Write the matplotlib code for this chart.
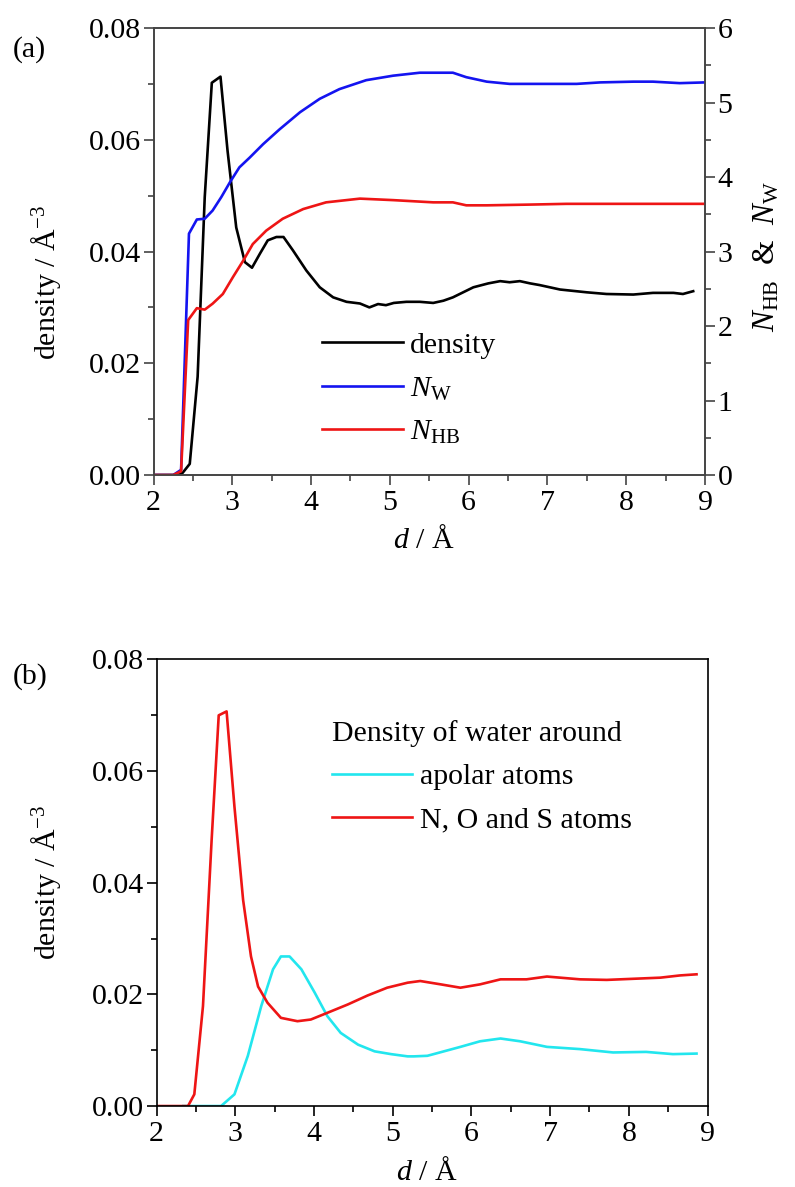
import matplotlib
matplotlib.use("Agg")
import matplotlib.pyplot as plt
from matplotlib.ticker import MultipleLocator

plt.rcParams['font.family'] = ['Liberation Serif', 'DejaVu Serif']
plt.rcParams['mathtext.fontset'] = 'custom'
plt.rcParams['mathtext.rm'] = 'Liberation Serif'
plt.rcParams['mathtext.it'] = 'Liberation Serif:italic'
FS = 21.5
plt.rcParams['font.size'] = FS

# (a) water density and coordination numbers
dens_x = [2.0, 2.1, 2.2, 2.3, 2.37, 2.46, 2.56, 2.65, 2.74, 2.85, 2.94, 3.05, 3.16, 3.25,
          3.35, 3.45, 3.56, 3.65, 3.77, 3.94, 4.11, 4.28, 4.45, 4.62, 4.74, 4.85, 4.95,
          5.05, 5.21, 5.38, 5.55, 5.68, 5.80, 6.06, 6.25, 6.40, 6.52, 6.65, 6.78, 6.90,
          7.16, 7.50, 7.75, 8.09, 8.34, 8.60, 8.72, 8.85]
dens_y = [0, 0, 0, 0, 0.0004, 0.002, 0.0176, 0.0497, 0.0702, 0.0713, 0.058, 0.0443, 0.0381,
          0.0371, 0.0396, 0.042, 0.0426, 0.0426, 0.0402, 0.0366, 0.0336, 0.0318, 0.031,
          0.0307, 0.030, 0.0306, 0.0304, 0.0308, 0.031, 0.031, 0.0308, 0.0312, 0.0318,
          0.0336, 0.0343, 0.0347, 0.0345, 0.0347, 0.0343, 0.034, 0.0332, 0.0327, 0.0324,
          0.0323, 0.0326, 0.0326, 0.0324, 0.0329]

nw_x = [2.0, 2.25, 2.35, 2.45, 2.55, 2.65, 2.75, 2.86, 2.97, 3.09, 3.22, 3.39, 3.60, 3.86,
        4.11, 4.36, 4.70, 5.04, 5.38, 5.63, 5.80, 5.97, 6.23, 6.52, 6.95, 7.37, 7.67, 8.09,
        8.34, 8.68, 9.0]
nw_y = [0, 0, 0.07, 3.24, 3.43, 3.44, 3.55, 3.73, 3.93, 4.13, 4.26, 4.44, 4.64, 4.87, 5.05,
        5.18, 5.30, 5.36, 5.40, 5.40, 5.40, 5.34, 5.28, 5.25, 5.25, 5.25, 5.27, 5.28, 5.28,
        5.26, 5.27]

nhb_x = [2.0, 2.25, 2.35, 2.44, 2.55, 2.65, 2.75, 2.88, 3.01, 3.14, 3.26, 3.43, 3.64, 3.90,
         4.19, 4.62, 5.04, 5.55, 5.80, 5.97, 6.23, 6.78, 7.24, 7.67, 8.09, 8.52, 9.0]
nhb_y = [0, 0, 0.05, 2.08, 2.24, 2.22, 2.30, 2.43, 2.66, 2.88, 3.10, 3.28, 3.44, 3.57, 3.66,
         3.71, 3.69, 3.66, 3.66, 3.62, 3.62, 3.63, 3.64, 3.64, 3.64, 3.64, 3.64]

# (b) density around apolar / polar atoms
apolar_x = [2.34, 2.82, 2.99, 3.16, 3.33, 3.48, 3.58, 3.69, 3.84, 4.01, 4.17, 4.34, 4.56,
            4.77, 4.98, 5.19, 5.27, 5.44, 5.52, 5.86, 6.11, 6.37, 6.62, 6.96, 7.38, 7.80,
            8.22, 8.56, 8.86]
apolar_y = [0, 0, 0.0021, 0.0090, 0.0179, 0.0245, 0.0268, 0.0268, 0.0245, 0.0203, 0.0161,
            0.0131, 0.0110, 0.0098, 0.0093, 0.0089, 0.0089, 0.0090, 0.0093, 0.0106, 0.0116,
            0.0121, 0.0116, 0.0106, 0.0102, 0.0096, 0.0097, 0.0093, 0.0094]

polar_x = [2.0, 2.40, 2.48, 2.59, 2.70, 2.79, 2.89, 2.99, 3.10, 3.20, 3.29, 3.41, 3.58, 3.79,
           3.96, 4.17, 4.43, 4.68, 4.93, 5.19, 5.35, 5.61, 5.86, 6.11, 6.37, 6.70, 6.96,
           7.38, 7.72, 8.06, 8.40, 8.65, 8.86]
polar_y = [0, 0, 0.0021, 0.0179, 0.0477, 0.0700, 0.0707, 0.0536, 0.0369, 0.0268, 0.0214,
           0.0185, 0.0158, 0.0152, 0.0155, 0.0167, 0.0182, 0.0198, 0.0212, 0.0221, 0.0224,
           0.0218, 0.0212, 0.0218, 0.0227, 0.0227, 0.0232, 0.0227, 0.0226, 0.0228, 0.0230,
           0.0234, 0.0236]

lw = 1.9
fig = plt.figure(figsize=(7.95, 11.87), dpi=100)


def style_axis(ax, spine_col):
    ax.set_xlim(2, 9)
    ax.set_ylim(0, 0.08)
    ax.xaxis.set_major_locator(MultipleLocator(1))
    ax.xaxis.set_minor_locator(MultipleLocator(0.5))
    ax.yaxis.set_major_locator(MultipleLocator(0.02))
    ax.yaxis.set_minor_locator(MultipleLocator(0.01))
    ax.yaxis.set_major_formatter(plt.FormatStrFormatter('%.2f'))
    ax.tick_params(which='both', direction='out', top=False, right=False,
                   color=spine_col, width=1.2, labelsize=FS)
    ax.tick_params(axis='x', pad=4)
    ax.tick_params(axis='y', pad=2)
    ax.tick_params(which='major', length=7)
    ax.tick_params(which='minor', length=4)
    for s in ax.spines.values():
        s.set_color(spine_col)
        s.set_linewidth(1.2)
    ax.set_xlabel('$\\mathit{d}$ / Å', fontsize=FS)
    ax.set_ylabel('density / Å$^{-3}$', fontsize=FS)


# ---- panel (a)
ax1 = fig.add_axes([0.1931, 0.5998, 0.6937, 0.3766])
style_axis(ax1, '#444444')
ax1.xaxis.set_label_coords(0.49, -0.115)
ax1.yaxis.set_label_coords(-0.165, 0.43)
l1, = ax1.plot(dens_x, dens_y, color='black', lw=lw, label='density')

ax2 = ax1.twinx()
ax2.set_ylim(0, 6)
ax2.yaxis.set_major_locator(MultipleLocator(1))
ax2.yaxis.set_minor_locator(MultipleLocator(0.5))
ax2.tick_params(which='both', direction='out', color='#444444', width=1.2,
                labelsize=FS, pad=2)
ax2.tick_params(which='major', length=7)
ax2.tick_params(which='minor', length=4)
for s in ax2.spines.values():
    s.set_color('#444444')
    s.set_linewidth(1.2)
l2, = ax2.plot(nw_x, nw_y, color='#1414f0', lw=lw, label='$N_{\\mathrm{W}}$')
l3, = ax2.plot(nhb_x, nhb_y, color='#ee1515', lw=lw, label='$N_{\\mathrm{HB}}$')
ax2.set_ylabel('$N_{\\mathrm{HB}}$  &  $N_{\\mathrm{W}}$', fontsize=FS + 1)
ax2.yaxis.set_label_coords(1.085, 0.49)

ax2.legend(handles=[l1, l2, l3], loc='upper left', bbox_to_anchor=(0.306, 0.32),
           frameon=False, fontsize=FS, handlelength=2.7, handletextpad=0.25,
           labelspacing=0.55, borderpad=0, borderaxespad=0)
fig.text(0.016, 0.958, '(a)', fontsize=FS, ha='left', va='center')

# ---- panel (b)
ax3 = fig.add_axes([0.1969, 0.0682, 0.6931, 0.3762])
style_axis(ax3, 'black')
ax3.xaxis.set_label_coords(0.49, -0.116)
ax3.yaxis.set_label_coords(-0.17, 0.5)
ax3.plot(apolar_x, apolar_y, color='#22e6ee', lw=lw, label='apolar atoms')
ax3.plot(polar_x, polar_y, color='#ee1515', lw=lw, label='N, O and S atoms')
leg = ax3.legend(loc='upper left', bbox_to_anchor=(0.318, 0.865), frameon=False,
                 fontsize=FS, title='Density of water around', title_fontsize=FS,
                 alignment='left', handlelength=2.7, handletextpad=0.25,
                 labelspacing=0.55, borderpad=0, borderaxespad=0)
fig.text(0.016, 0.4297, '(b)', fontsize=FS, ha='left', va='center')

fig.savefig('out.png', dpi=100)
